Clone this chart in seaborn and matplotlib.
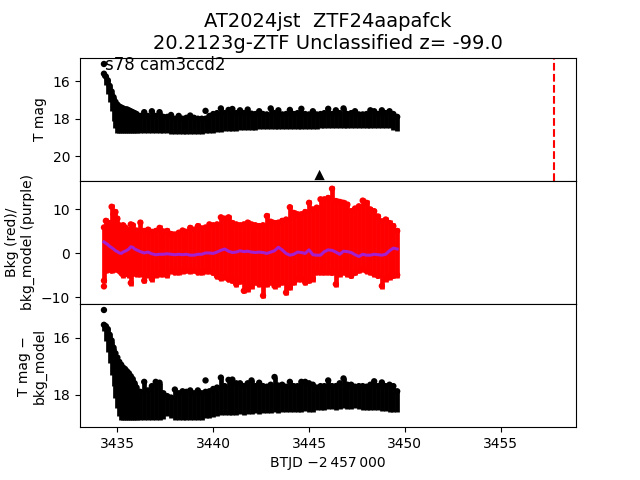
import numpy as np
import matplotlib
matplotlib.use("Agg")
import matplotlib.pyplot as plt
import seaborn as sns

# ---------------- data ----------------
# observation times (BTJD - 2457000): dense sampling during the early decline, then every 0.2 d
t_early = np.round(np.arange(3434.3, 3435.95, 0.1), 2)
t_late = np.round(np.arange(3436.0, 3449.65, 0.2), 2)
btjd = np.concatenate([t_early, t_late])

# top panel: T mag, bright (upper) and faint (lower) extent of the point cloud
tmag_bright = [15.45, 15.6, 15.8, 16.1, 16.4, 16.7, 16.95, 17.1, 17.2, 17.25, 17.3, 17.35, 17.35, 17.4, 17.45, 17.5, 17.55,
               17.6, 17.7, 17.5, 17.7, 17.45, 17.7, 17.5, 17.75, 17.75, 17.65, 17.85, 17.7, 17.85, 17.8, 17.68, 17.8,
               17.85, 17.85, 17.85, 17.7, 17.6, 17.55, 17.3, 17.55, 17.38, 17.33, 17.55, 17.4, 17.55, 17.36, 17.58,
               17.6, 17.45, 17.6, 17.62, 17.3, 17.55, 17.4, 17.62, 17.6, 17.38, 17.6, 17.55, 17.32, 17.6, 17.62,
               17.45, 17.62, 17.6, 17.55, 17.32, 17.6, 17.4, 17.55, 17.3, 17.6, 17.55, 17.45, 17.62, 17.62, 17.6,
               17.4, 17.45, 17.6, 17.4, 17.55, 17.45, 17.6, 17.75]
tmag_faint = [15.8, 16.2, 16.7, 17.1, 17.6, 18.1, 18.5, 18.75, 18.77, 18.77, 18.77, 18.77, 18.77, 18.77, 18.77, 18.77, 18.77,
              18.77, 18.77, 18.78, 18.78, 18.78, 18.78, 18.78, 18.78, 18.78, 18.8, 18.8, 18.8, 18.8, 18.8, 18.8, 18.8,
              18.8, 18.79, 18.78, 18.76, 18.74, 18.72, 18.7, 18.68, 18.66, 18.65, 18.63, 18.62, 18.61, 18.6, 18.59,
              18.58, 18.57, 18.56, 18.55, 18.55, 18.55, 18.55, 18.55, 18.55, 18.55, 18.55, 18.55, 18.55, 18.55, 18.55,
              18.55, 18.55, 18.5, 18.49, 18.48, 18.48, 18.48, 18.49, 18.5, 18.49, 18.48, 18.5, 18.5, 18.5, 18.5,
              18.52, 18.52, 18.52, 18.52, 18.52, 18.52, 18.58, 18.65]
tmag_extra_t = [3434.3, 3439.6]
tmag_extra = [15.08, 17.58]
ztf_t = [3445.55]
ztf_mag = [21.0]
ztf_discovery = 3457.78

# middle panel: background flux extent and background model
bkg_hi = [6.5, 8.0, 6.5, 7.5, 11.2, 9.5, 10.0, 8.5, 7.0, 6.0, 7.0, 6.5, 5.5, 6.0, 7.2, 7.0, 5.5,
          5.8, 7.6, 5.7, 6.0, 5.5, 5.7, 6.4, 5.6, 5.7, 5.0, 4.9, 5.3, 5.8, 5.5, 6.4, 6.0, 6.8, 6.3, 6.5, 7.2,
          7.0, 7.2, 8.8, 8.5, 8.8, 7.5, 7.2, 7.0, 7.2, 7.6, 7.2, 7.0, 6.8, 7.0, 9.1, 7.8, 7.5, 7.6, 8.0, 8.3,
          11.1, 9.8, 9.5, 9.5, 10.0, 12.1, 10.6, 11.0, 12.9, 12.9, 13.2, 15.3, 12.5, 12.3, 12.1, 11.7, 10.2,
          10.8, 11.3, 12.6, 12.1, 10.6, 10.2, 9.0, 7.9, 8.3, 7.5, 6.8, 5.7]
bkg_lo = [-6.8, -4.5, -4.3, -4.0, -4.5, -4.3, -4.0, -4.2, -4.5, -5.0, -5.5, -5.0, -5.2, -5.5, -7.3, -5.2, -5.0,
          -5.3, -5.3, -6.8, -5.5, -6.4, -5.5, -5.3, -5.3, -5.5, -4.6, -4.9, -4.9, -4.6, -4.5, -4.6, -4.5, -4.9,
          -4.9, -4.6, -4.6, -5.0, -5.8, -6.2, -6.0, -6.5, -6.8, -7.6, -7.0, -9.1, -8.7, -8.0, -7.2, -7.6, -10.2,
          -7.6, -7.2, -8.0, -7.6, -7.2, -9.5, -8.3, -7.2, -6.4, -6.4, -7.2, -6.8, -6.4, -4.9, -4.9, -4.9, -4.9,
          -5.0, -7.6, -5.3, -4.9, -5.3, -5.7, -5.0, -4.5, -4.2, -4.6, -4.9, -5.3, -5.7, -8.0, -6.4, -6.0, -5.7, -5.5]
bkg_extra_t = [3434.3]
bkg_extra = [-7.5]
bkg_model = [2.6, 2.3, 2.0, 1.6, 1.3, 1.0, 0.6, 0.4, 0.1, 0.0, 0.3, 0.5, 0.7, 1.0, 1.5, 1.4, 1.0,
             0.8, 0.4, 0.1, 0.3, -0.1, -0.3, -0.2, -0.2, -0.1, -0.2, -0.3, -0.2, -0.3, -0.2, -0.4, -0.4, -0.2,
             -0.2, 0.1, 0.1, 0.0, 0.3, 0.7, 1.0, 0.5, 0.2, 0.3, 0.6, 0.4, 0.5, 0.3, 0.2, 0.3, 0.2, 0.0, 0.3, 0.6,
             1.4, 0.8, 0.0, -0.4, -0.2, 0.3, 0.2, 0.0, 0.8, -0.3, -0.4, -0.4, 0.4, 0.8, 0.7, 0.3, -0.2, 0.5, 0.4,
             0.2, -0.3, -0.7, -0.2, -0.4, -0.4, -0.2, -0.3, -0.4, -0.2, 0.6, 1.2, 1.0]

# bottom panel: T mag - bkg_model
sub_bright = [15.45, 15.5, 15.6, 15.8, 16.0, 16.25, 16.45, 16.6, 16.75, 16.85, 16.95, 17.0, 17.08, 17.15, 17.25, 17.35, 17.5,
              17.65, 17.8, 17.45, 17.75, 17.6, 17.45, 17.48, 17.85, 17.95, 18.0, 17.72, 17.85, 17.78, 17.8, 17.75,
              17.85, 17.75, 17.85, 17.8, 17.78, 17.7, 17.65, 17.3, 17.6, 17.38, 17.37, 17.5, 17.5, 17.6, 17.5, 17.4,
              17.6, 17.48, 17.6, 17.62, 17.55, 17.28, 17.58, 17.55, 17.62, 17.45, 17.6, 17.6, 17.45, 17.45, 17.5,
              17.55, 17.65, 17.6, 17.6, 17.4, 17.6, 17.6, 17.5, 17.33, 17.55, 17.55, 17.62, 17.6, 17.6, 17.62,
              17.55, 17.43, 17.6, 17.47, 17.6, 17.55, 17.6, 17.78]
sub_faint = [15.75, 16.1, 16.5, 16.9, 17.3, 17.7, 18.1, 18.45, 18.75, 18.89, 18.89, 18.89, 18.89, 18.89, 18.89, 18.89, 18.89,
             18.88, 18.9, 18.9, 18.88, 18.9, 18.88, 18.9, 18.85, 18.75, 18.8, 18.9, 18.9, 18.88, 18.9, 18.88, 18.88,
             18.9, 18.88, 18.82, 18.8, 18.78, 18.75, 18.72, 18.72, 18.7, 18.72, 18.7, 18.68, 18.7, 18.68, 18.68,
             18.65, 18.68, 18.65, 18.65, 18.65, 18.62, 18.65, 18.6, 18.62, 18.6, 18.6, 18.6, 18.62, 18.58, 18.6,
             18.6, 18.55, 18.52, 18.52, 18.5, 18.5, 18.52, 18.5, 18.48, 18.5, 18.5, 18.48, 18.5, 18.52, 18.55,
             18.53, 18.55, 18.55, 18.57, 18.58, 18.6, 18.6, 18.6]
sub_extra_t = [3434.3, 3439.6]
sub_extra = [15.03, 17.5]

title = "AT2024jst  ZTF24aapafck\n20.2123g-ZTF Unclassified z= -99.0"
sector_label = "s78 cam3ccd2"

n = len(btjd)
for arr in (tmag_bright, tmag_faint, bkg_hi, bkg_lo, bkg_model, sub_bright, sub_faint):
    assert len(arr) == n, (len(arr), n)

tmag_bright = np.array(tmag_bright); tmag_faint = np.array(tmag_faint)
bkg_hi = np.array(bkg_hi); bkg_lo = np.array(bkg_lo)
sub_bright = np.array(sub_bright); sub_faint = np.array(sub_faint)

# ---------------- figure ----------------
fig, (ax1, ax2, ax3) = plt.subplots(3, 1, sharex=True, figsize=(6.4, 4.8), dpi=100)
fig.subplots_adjust(hspace=0)

BAR_LW = 3.4
DOT_S = 21

def cloud(ax, t, bright, faint, r, color):
    ax.vlines(t, bright + r, faint, color=color, lw=BAR_LW)
    sns.scatterplot(x=t, y=bright + r, ax=ax, color=color, s=DOT_S, edgecolor="none", linewidth=0, legend=False)

# top panel
cloud(ax1, btjd, tmag_bright, tmag_faint, 0.15, "k")
sns.scatterplot(x=tmag_extra_t, y=tmag_extra, ax=ax1, color="k", s=DOT_S, edgecolor="none", legend=False)
sns.scatterplot(x=ztf_t, y=ztf_mag, ax=ax1, color="k", marker="^", s=55, edgecolor="none", legend=False)
ax1.axvline(ztf_discovery, color="red", ls="--", lw=1.5)
ax1.text(3434.35, 15.4, sector_label, fontsize=12)
ax1.set_ylim(21.31, 14.74)
ax1.set_yticks([16, 18, 20])
ax1.set_ylabel("T mag")
ax1.set_title(title, fontsize=14)

# middle panel
ax2.vlines(btjd, bkg_lo, bkg_hi, color="red", lw=BAR_LW)
sns.scatterplot(x=btjd, y=bkg_hi - 0.6, ax=ax2, color="red", s=DOT_S, edgecolor="none", legend=False)
sns.scatterplot(x=btjd, y=bkg_lo + 0.6, ax=ax2, color="red", s=DOT_S, edgecolor="none", legend=False)
sns.scatterplot(x=bkg_extra_t, y=bkg_extra, ax=ax2, color="red", s=DOT_S, edgecolor="none", legend=False)
sns.lineplot(x=btjd, y=bkg_model, ax=ax2, color="#a41fd0", lw=2.2, estimator=None, sort=False)
ax2.set_ylim(-11.5, 16.5)
ax2.set_yticks([-10, 0, 10])
ax2.set_ylabel("Bkg (red)/\nbkg_model (purple)")

# bottom panel
cloud(ax3, btjd, sub_bright, sub_faint, 0.1, "k")
sns.scatterplot(x=sub_extra_t, y=sub_extra, ax=ax3, color="k", s=DOT_S, edgecolor="none", legend=False)
ax3.set_ylim(19.14, 14.82)
ax3.set_yticks([16, 18])
ax3.set_ylabel("T mag \u2212\nbkg_model")

ax3.set_xlim(3433.05, 3458.93)
ax3.set_xticks([3435, 3440, 3445, 3450, 3455])
ax3.set_xlabel("BTJD \u22122\u2009457\u2009000")
for ax in (ax1, ax2):
    ax.tick_params(axis="x", which="both", bottom=False, labelbottom=False)
    ax.set_xlabel("")

fig.savefig("out.png", dpi=100)
